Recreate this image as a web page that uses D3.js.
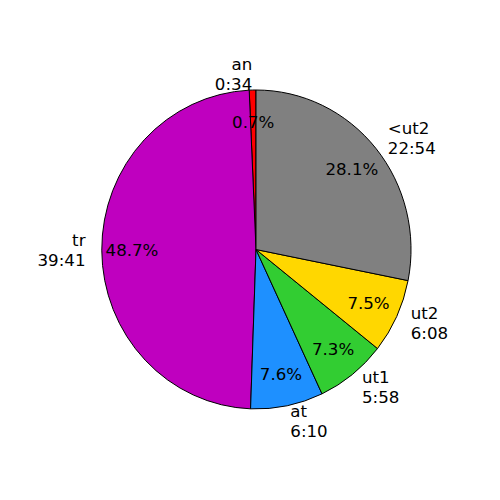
<!DOCTYPE html>
<html lang="en">
<head>
    <meta charset="UTF-8">
    <title>pie</title>
    <script src="https://cdn.jsdelivr.net/npm/d3@7"></script>
    <style>
        body { margin: 0; background: #fff; }
        text { font-family: "DejaVu Sans", sans-serif; font-size: 16.67px; fill: #000; }
    </style>
</head>
<body>
<svg id="chart"></svg>

<script>
    // data
    const labels = ["an", "tr", "at", "ut1", "ut2", "<ut2"];
    const times = ["0:34", "39:41", "6:10", "5:58", "6:08", "22:54"];
    const seconds = [34, 2381, 370, 358, 368, 1374];
    const colors = ["#ff0000", "#bf00bf", "#1e90ff", "#32cd32", "#ffd700", "#808080"];

    const width = 500, height = 500;
    const cx = 256, cy = 249.5;
    const rx = 155, ry = 159.5;   // pie is slightly taller than wide
    const total = d3.sum(seconds);

    const svg = d3.select("#chart").attr("width", width).attr("height", height);

    // counterclockwise from 12 o'clock
    const pie = d3.pie().sort(null).startAngle(0).endAngle(-2 * Math.PI);
    const arcs = pie(seconds);
    const arc = d3.arc().innerRadius(0).outerRadius(1);

    svg.append("g")
        .attr("transform", "translate(" + cx + "," + cy + ") scale(" + rx + "," + ry + ")")
        .selectAll("path")
        .data(arcs)
        .enter().append("path")
        .attr("d", arc)
        .attr("fill", (d, i) => colors[i])
        .attr("stroke", "#000")
        .attr("stroke-width", 1)
        .attr("vector-effect", "non-scaling-stroke");

    function pos(d, k) {
        const a = (d.startAngle + d.endAngle) / 2;
        return [cx + k * rx * Math.sin(a), cy - k * ry * Math.cos(a)];
    }

    // percent labels
    svg.append("g").selectAll("text")
        .data(arcs)
        .enter().append("text")
        .attr("text-anchor", "middle")
        .attr("x", d => pos(d, 0.8)[0])
        .attr("y", d => pos(d, 0.8)[1] + 6)
        .text(d => d3.format(".1f")(d.value / total * 100) + "%");

    // outer labels (two lines)
    const lab = svg.append("g").selectAll("text")
        .data(arcs)
        .enter().append("text")
        .attr("text-anchor", d => pos(d, 1.1)[0] > cx ? "start" : "end");

    lab.append("tspan")
        .attr("x", d => pos(d, 1.1)[0])
        .attr("y", d => pos(d, 1.1)[1] - 4)
        .text((d, i) => labels[i]);
    lab.append("tspan")
        .attr("x", d => pos(d, 1.1)[0])
        .attr("y", d => pos(d, 1.1)[1] + 16)
        .text((d, i) => times[i]);
</script>
</body>
</html>
